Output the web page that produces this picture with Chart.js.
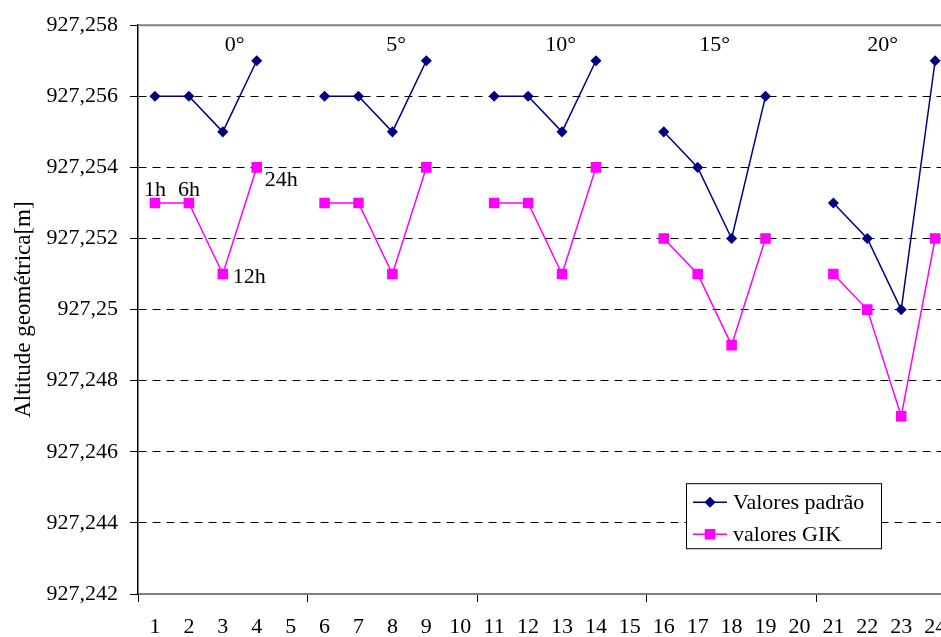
<!DOCTYPE html>
<html>
<head>
<meta charset="utf-8">
<script src="https://cdn.jsdelivr.net/npm/chart.js@4"></script>
<style>
html, body { margin: 0; padding: 0; background: #fff; overflow: hidden; }
</style>
</head>
<body>
<canvas id="altChart" width="960" height="637"></canvas>
<script>
// data
var categories = ['1','2','3','4','5','6','7','8','9','10','11','12','13','14','15','16','17','18','19','20','21','22','23','24'];
var valoresPadrao = [927.256, 927.256, 927.255, 927.257, null,
                     927.256, 927.256, 927.255, 927.257, null,
                     927.256, 927.256, 927.255, 927.257, null,
                     927.255, 927.254, 927.252, 927.256, null,
                     927.253, 927.252, 927.250, 927.257];
var valoresGIK = [927.253, 927.253, 927.251, 927.254, null,
                  927.253, 927.253, 927.251, 927.254, null,
                  927.253, 927.253, 927.251, 927.254, null,
                  927.252, 927.251, 927.249, 927.252, null,
                  927.251, 927.250, 927.247, 927.252];
var yTicks = [927.242, 927.244, 927.246, 927.248, 927.250, 927.252, 927.254, 927.256, 927.258];
var groupLabels = ['0°', '5°', '10°', '15°', '20°'];
var hourLabels = ['1h', '6h', '12h', '24h'];

var FONT = "'Liberation Serif', 'Times New Roman', serif";
Chart.defaults.font.family = FONT;
Chart.defaults.font.size = 22;
Chart.defaults.color = '#000';

function fmtTick(v) {
    return parseFloat(v.toFixed(3)).toString().replace('.', ',');
}

// text labels, top border and the boxed legend
var annotations = {
    id: 'annotations',
    beforeDatasetsDraw: function(chart) {
        var ctx = chart.ctx, area = chart.chartArea;
        ctx.save();
        ctx.strokeStyle = '#808080';
        ctx.lineWidth = 2;
        ctx.beginPath();
        ctx.moveTo(area.left, area.top);
        ctx.lineTo(area.right, area.top);
        ctx.stroke();
        ctx.restore();
    },
    afterDatasetsDraw: function(chart) {
        var ctx = chart.ctx, area = chart.chartArea, xs = chart.scales.x;
        var step = xs.getPixelForValue(1) - xs.getPixelForValue(0);
        var x0 = xs.getPixelForValue(0);
        ctx.save();
        ctx.font = '22px ' + FONT;
        ctx.fillStyle = '#000';
        ctx.textBaseline = 'middle';

        // angle labels above each group
        var groupPos = [2.35, 7.11, 11.96, 16.5, 21.45];
        ctx.textAlign = 'center';
        groupLabels.forEach(function(t, i) {
            ctx.fillText(t, x0 + groupPos[i] * step, area.top + 20);
        });

        // hour labels on the first GIK group
        var pts = chart.getDatasetMeta(1).data;
        var offs = [[0, -13, 'center'], [0, -13, 'center'], [10, 3, 'left'], [8, 13, 'left']];
        hourLabels.forEach(function(t, i) {
            ctx.textAlign = offs[i][2];
            ctx.fillText(t, pts[i].x + offs[i][0], pts[i].y + offs[i][1]);
        });

        // legend box
        var bx = area.left + 548, by = area.top + 458, bw = 195, bh = 65;
        ctx.fillStyle = '#fff';
        ctx.fillRect(bx, by, bw, bh);
        ctx.strokeStyle = '#000';
        ctx.lineWidth = 1;
        ctx.strokeRect(bx + 0.5, by + 0.5, bw, bh);
        chart.data.datasets.forEach(function(ds, i) {
            var cy = by + 19 + i * 32;
            ctx.strokeStyle = ds.borderColor;
            ctx.lineWidth = 1.5;
            ctx.beginPath();
            ctx.moveTo(bx + 7, cy);
            ctx.lineTo(bx + 41, cy);
            ctx.stroke();
            Chart.helpers.drawPoint(ctx, {pointStyle: ds.pointStyle, radius: ds.pointRadius, borderWidth: 1}, bx + 24, cy);
            ctx.fillStyle = ds.pointBackgroundColor;
            ctx.fill();
            ctx.fillStyle = '#000';
            ctx.textAlign = 'left';
            ctx.fillText(ds.label, bx + 47, cy + 1);
        });
        ctx.restore();
    }
};

var ctx = document.getElementById('altChart').getContext('2d');
var altChart = new Chart(ctx, {
    type: 'line',
    data: {
        labels: categories,
        datasets: [{
            label: 'Valores padrão',
            data: valoresPadrao,
            borderColor: '#000080',
            backgroundColor: '#000080',
            pointBackgroundColor: '#000080',
            pointBorderColor: '#000080',
            pointStyle: 'rectRot',
            pointRadius: 4.5,
            borderWidth: 1.5,
            spanGaps: false
        }, {
            label: 'valores GIK',
            data: valoresGIK,
            borderColor: '#FF00FF',
            backgroundColor: '#FF00FF',
            pointBackgroundColor: '#FF00FF',
            pointBorderColor: '#FF00FF',
            pointStyle: 'rect',
            pointRadius: 6.4,
            borderWidth: 1.5,
            spanGaps: false
        }]
    },
    options: {
        responsive: false,
        animation: false,
        layout: { padding: { top: 25, right: 5, left: 0, bottom: 0 } },
        plugins: {
            legend: { display: false },
            tooltip: { enabled: false }
        },
        scales: {
            x: {
                offset: true,
                grid: {
                    offset: true,
                    drawOnChartArea: false,
                    tickLength: 8,
                    color: function(c) {
                        return c.index % 5 === 0 ? '#000' : 'rgba(0,0,0,0)';
                    }
                },
                border: { color: '#808080', width: 2 },
                ticks: { padding: 12, maxRotation: 0, autoSkip: false },
                afterFit: function(scale) { scale.height = 43; }
            },
            y: {
                min: 927.242,
                max: 927.258,
                afterBuildTicks: function(axis) {
                    axis.ticks = yTicks.map(function(v) { return { value: v }; });
                },
                grid: {
                    color: function(c) {
                        return (c.index === 0 || c.index === yTicks.length - 1) ? 'rgba(0,0,0,0)' : '#000';
                    },
                    tickColor: '#000',
                    tickLength: 8,
                    tickBorderDash: []
                },
                border: { color: '#000', width: 1.5, dash: [8, 6] },
                ticks: {
                    padding: 12,
                    callback: function(v) { return fmtTick(v); }
                },
                title: {
                    display: true,
                    text: 'Altitude geométrica[m]',
                    font: { size: 23 },
                    padding: { top: 10, bottom: 0 }
                },
                afterFit: function(scale) { scale.width = 138; }
            }
        }
    },
    plugins: [annotations]
});
</script>
</body>
</html>
